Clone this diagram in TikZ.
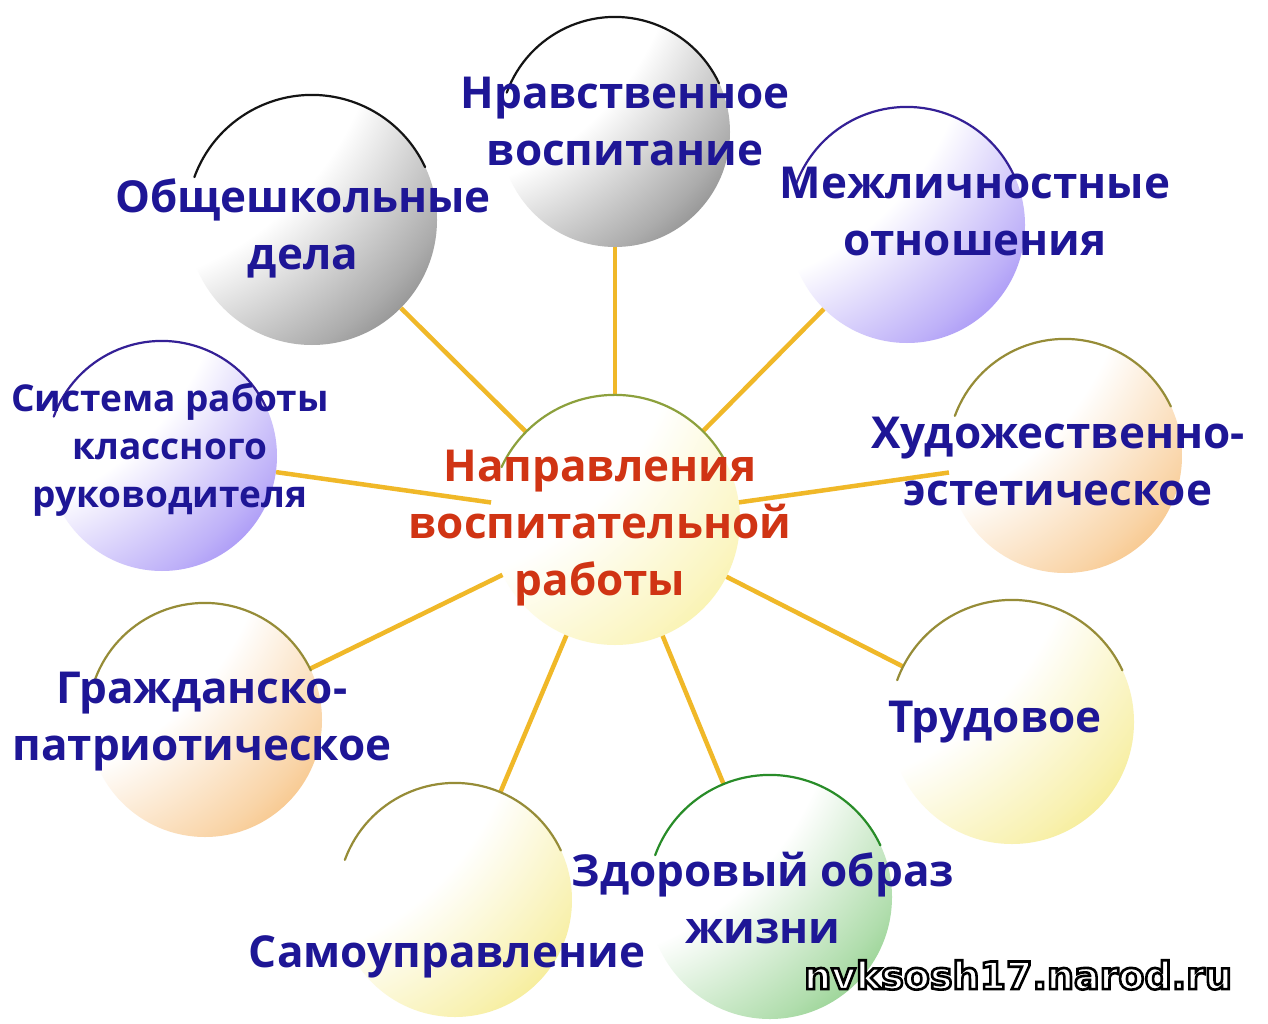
\documentclass[tikz,border=0pt]{standalone}
\usepackage{fontspec}
\setmainfont{Open Sans}
\newfontfamily\wmfont{DejaVu Sans}
\usepackage{xcolor}

\definecolor{ink}{RGB}{30,22,150}
\definecolor{redtxt}{RGB}{208,52,20}
\definecolor{spokecol}{RGB}{240,184,40}
\definecolor{toneGrey}{RGB}{70,70,70}
\definecolor{toneViolet}{RGB}{110,80,240}
\definecolor{toneOrange}{RGB}{242,160,60}
\definecolor{toneYellow}{RGB}{240,224,80}
\definecolor{toneGreen}{RGB}{80,180,72}
\definecolor{toneCentre}{RGB}{246,234,120}
\definecolor{rimGrey}{RGB}{20,20,20}
\definecolor{rimViolet}{RGB}{52,32,150}
\definecolor{rimOlive}{RGB}{150,140,55}
\definecolor{rimGreen}{RGB}{40,140,40}
\definecolor{rimCentre}{RGB}{140,160,60}

% white upper left, tone towards the lower right
\pgfdeclareradialshading[orbtone]{orb}{\pgfpoint{-60bp}{60bp}}{%
  color(0bp)=(white); color(62bp)=(white);
  color(82bp)=(orbtone!45!white); color(96bp)=(orbtone!85!white);
  color(104bp)=(orbtone); color(300bp)=(orbtone)}

\begin{document}
\begin{tikzpicture}[x=1pt,y=-1pt,
  orb/.style={circle, inner sep=0pt, shade, shading=orb,
    /utils/exec={\colorlet{orbtone}{#1}}},
  rim/.style={line width=2.2pt, line cap=round},
  spoke/.style={draw=spokecol, line width=4.5pt},
  lbl/.style={text=ink, align=center, inner sep=0pt,
    font=\fontsize{44}{57}\selectfont\bfseries},
  small/.style={font=\fontsize{37}{48}\selectfont\bfseries},
  wmark/.style={inner sep=0pt, text=white, font=\wmfont\fontsize{38}{42}\selectfont\bfseries}]
\useasboundingbox [fill=white] (0,0) rectangle (1268,1024);

% circles
\node [orb=toneCentre, minimum size=250pt] (ctr) at (615,520) {};
\node [orb=toneGrey, minimum size=230pt] (nrav) at (615,132) {};
\node [orb=toneGrey, minimum size=250pt] (obsh) at (312,220) {};
\node [orb=toneViolet, minimum size=236pt] (mezh) at (907,225) {};
\node [orb=toneViolet, minimum size=230pt] (sist) at (162,456) {};
\node [orb=toneOrange, minimum size=234pt] (hud) at (1065,456) {};
\node [orb=toneOrange, minimum size=234pt] (grazh) at (205,720) {};
\node [orb=toneYellow, minimum size=244pt] (trud) at (1012,722) {};
\node [orb=toneYellow, minimum size=234pt] (samo) at (455,900) {};
\node [orb=toneGreen, minimum size=244pt] (zdor) at (770,897) {};

% spokes
\draw [spoke] (ctr) -- (nrav);
\draw [spoke] (ctr) -- (obsh);
\draw [spoke] (ctr) -- (mezh);
\draw [spoke] (ctr) -- (sist);
\draw [spoke] (ctr) -- (hud);
\draw [spoke] (ctr) -- (grazh);
\draw [spoke] (ctr) -- (trud);
\draw [spoke] (ctr) -- (samo);
\draw [spoke] (ctr) -- (zdor);

% rims
\draw [rim, rimCentre] (ctr.155) arc [start angle=155, end angle=30, radius=125pt];
\draw [rim, rimGrey] (nrav.160) arc [start angle=160, end angle=25, radius=115pt];
\draw [rim, rimGrey] (obsh.160) arc [start angle=160, end angle=25, radius=125pt];
\draw [rim, rimViolet] (mezh.160) arc [start angle=160, end angle=25, radius=118pt];
\draw [rim, rimViolet] (sist.160) arc [start angle=160, end angle=25, radius=115pt];
\draw [rim, rimOlive] (hud.160) arc [start angle=160, end angle=25, radius=117pt];
\draw [rim, rimOlive] (grazh.160) arc [start angle=160, end angle=25, radius=117pt];
\draw [rim, rimOlive] (trud.160) arc [start angle=160, end angle=25, radius=122pt];
\draw [rim, rimOlive] (samo.160) arc [start angle=160, end angle=25, radius=117pt];
\draw [rim, rimGreen] (zdor.160) arc [start angle=160, end angle=25, radius=122pt];

% labels
\node [lbl, text=redtxt] (ctr-t) at (600,528) {Направления\\воспитательной\\работы};
\node [lbl] (nrav-t) at (625,122) {Нравственное\\воспитание};
\node [lbl] (obsh-t) at (303,228) {Общешкольные\\дела};
\node [lbl] (mezh-t) at (975,212) {Межличностные\\отношения};
\node [lbl, small] (sist-t) at (170,450) {Система работы\\классного\\руководителя};
\node [lbl] (hud-t) at (1058,462) {Художественно-\\эстетическое};
\node [lbl] (grazh-t) at (202,722) {Гражданско-\\патриотическое};
\node [lbl] (trud-t) at (995,722) {Трудовое};
\node [lbl] (samo-t) at (447,957) {Самоуправление};
\node [lbl] (zdor-t) at (763,898) {Здоровый образ\\жизни};

% watermark, white letters stroked in black
\node [wmark] (wm) at (1018,975) {\special{pdf:code 2 Tr 2.6 w 0 G}nvksosh17.narod.ru\special{pdf:code 0 Tr}};
\end{tikzpicture}
\end{document}
